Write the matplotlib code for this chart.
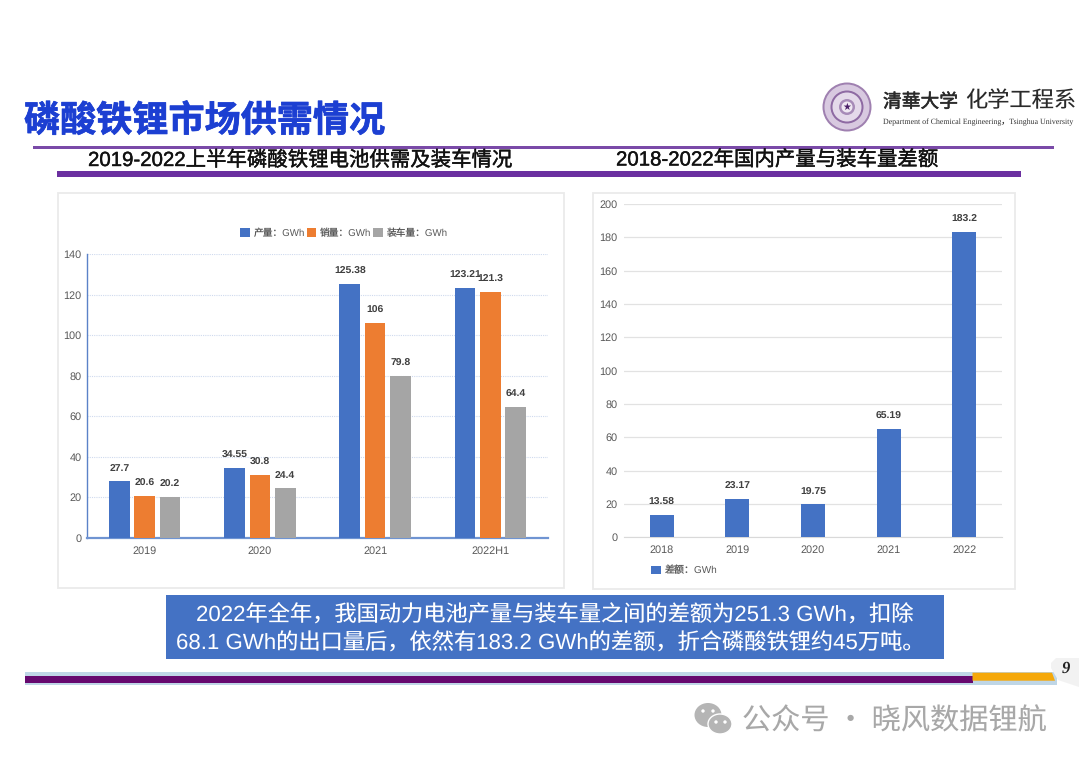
import matplotlib
matplotlib.use("Agg")
import matplotlib.pyplot as plt
import matplotlib.patheffects as pe
from matplotlib.patches import Rectangle, Circle, Ellipse, Polygon

FONT = ['Liberation Sans', 'Noto Sans CJK SC', 'DejaVu Sans']
CJK = ['Noto Sans CJK SC', 'Liberation Sans', 'DejaVu Sans']
plt.rcParams['font.family'] = FONT
plt.rcParams['text.hinting'] = 'no_hinting'

# data
years_left = ['2019', '2020', '2021', '2022H1']
production = [27.7, 34.55, 125.38, 123.21]
sales = [20.6, 30.8, 106, 121.3]
installed = [20.2, 24.4, 79.8, 64.4]
production_labels = ['27.7', '34.55', '125.38', '123.21']
sales_labels = ['20.6', '30.8', '106', '121.3']
installed_labels = ['20.2', '24.4', '79.8', '64.4']
left_ticks = [0, 20, 40, 60, 80, 100, 120, 140]

years_right = ['2018', '2019', '2020', '2021', '2022']
gap = [13.58, 23.17, 19.75, 65.19, 183.2]
gap_labels = ['13.58', '23.17', '19.75', '65.19', '183.2']
right_ticks = [0, 20, 40, 60, 80, 100, 120, 140, 160, 180, 200]

W, H = 1080, 763
BLUE, ORANGE, GREY = '#4472C4', '#ED7D31', '#A5A5A5'
TXT = '#595959'

fig = plt.figure(figsize=(W / 100, H / 100), dpi=100, facecolor='white')


def axes_px(x0, y0, x1, y1, **kw):
    return fig.add_axes([x0 / W, 1 - y1 / H, (x1 - x0) / W, (y1 - y0) / H], **kw)


def heavy(t, w=0.5):
    t.set_path_effects([pe.withStroke(linewidth=w, foreground=t.get_color())])
    return t


bg = axes_px(0, 0, W, H, zorder=0)
bg.set_xlim(0, W)
bg.set_ylim(H, 0)
bg.axis('off')


def rect(x0, y0, x1, y1, fc, ec='none', lw=0, z=1):
    bg.add_patch(Rectangle((x0, y0), x1 - x0, y1 - y0, fc=fc, ec=ec, lw=lw, zorder=z))


# header
heavy(bg.text(24, 121, '磷酸铁锂市场供需情况', color='#1C3FD2', fontsize=26, fontweight='bold',
              family=CJK, va='center', ha='left'), 0.5)
rect(33, 146, 1054, 148.5, '#7A4AA8')
rect(57, 171, 1021, 176.5, '#6B30A0')
heavy(bg.text(88, 166, '2019-2022上半年磷酸铁锂电池供需及装车情况', color='#111111', fontsize=14.7,
              va='baseline', ha='left'), 0.3)
heavy(bg.text(616, 165.5, '2018-2022年国内产量与装车量差额', color='#111111', fontsize=14.7,
              va='baseline', ha='left'), 0.3)

# logo
cx, cy = 847, 107
for r, fc in [(24.5, '#9F80B0'), (22.5, '#D8C9E0'), (16.5, '#8E6AA3'), (14.5, '#E4D9EA'), (8, '#A78BB8'), (5.5, '#EFE8F2')]:
    bg.add_patch(Circle((cx, cy), r, fc=fc, ec='none', zorder=2))
bg.text(cx, cy + 0.5, '★', color='#4A1F68', fontsize=7, ha='center', va='center',
        family=['DejaVu Sans'], zorder=3)
heavy(bg.text(883, 102, '清華大学', color='#2A2A2A', fontsize=13.5, family=CJK,
              va='center', ha='left'), 0.4)
bg.text(965, 101, '化学工程系', color='#2A2A2A', fontsize=16, family=CJK, va='center', ha='left')
bg.text(883, 122.5, 'Department of Chemical Engineering，Tsinghua University', color='#333333',
        fontsize=5.7, family=['Liberation Serif', 'Noto Sans CJK SC'], va='center', ha='left')

# panels
rect(57.5, 192.5, 564, 588, 'white', ec='#EAEAEA', lw=1.3)
rect(592.5, 192.5, 1015, 589, 'white', ec='#EAEAEA', lw=1.3)

# left chart
ax = axes_px(87, 254, 548, 537.5, zorder=2)
ax.patch.set_alpha(0)
ax.set_xlim(-0.5, 3.5)
ax.set_ylim(0, 140)
series = [(production, production_labels, BLUE, -0.22, '产量：GWh'),
          (sales, sales_labels, ORANGE, 0.0, '销量：GWh'),
          (installed, installed_labels, GREY, 0.22, '装车量：GWh')]
for vals, labs, col, off, name in series:
    xs = [i + off for i in range(len(vals))]
    ax.bar(xs, vals, width=0.18, color=col, zorder=3, label=name)
    for x, v, s in zip(xs, vals, labs):
        ax.annotate(s, (x, v), xytext=(0, 9), textcoords='offset points', ha='center', va='center',
                    fontsize=7.5, color='#404040', fontweight='bold', zorder=5, annotation_clip=False)
ax.set_xticks(range(4), years_left)
ax.set_yticks(left_ticks)
ax.grid(axis='y', color='#CFDAEE', lw=0.8, ls=(0, (1, 1)), zorder=1)
for s in ('top', 'right'):
    ax.spines[s].set_visible(False)
ax.spines['left'].set_color('#5B82C8')
ax.spines['left'].set_linewidth(1.0)
ax.spines['bottom'].set_color('#6F94D2')
ax.spines['bottom'].set_linewidth(1.6)
ax.tick_params(length=0, labelsize=7.8, labelcolor=TXT)
ax.tick_params(axis='x', pad=6)
ax.tick_params(axis='y', pad=4)
ax.legend(loc='center', bbox_to_anchor=(344 / W, 1 - 233 / H), bbox_transform=fig.transFigure, ncol=3,
          frameon=False, fontsize=7, labelcolor=TXT, handlelength=0.95, handleheight=0.95,
          handletextpad=0.4, columnspacing=0.2, borderpad=0)

# right chart
ax2 = axes_px(624, 204, 1002, 537.3, zorder=2)
ax2.patch.set_alpha(0)
ax2.set_xlim(-0.5, 4.5)
ax2.set_ylim(0, 200)
ax2.bar(range(5), gap, width=0.32, color=BLUE, zorder=3, label='差额：GWh')
for i, (v, s) in enumerate(zip(gap, gap_labels)):
    ax2.annotate(s, (i, v), xytext=(0, 9), textcoords='offset points', ha='center', va='center',
                 fontsize=7.5, color='#404040', fontweight='bold', zorder=5, annotation_clip=False)
ax2.set_xticks(range(5), years_right)
ax2.set_yticks(right_ticks)
ax2.grid(axis='y', color='#E2E2E2', lw=0.9, zorder=1)
for s in ('top', 'right', 'left'):
    ax2.spines[s].set_visible(False)
ax2.spines['bottom'].set_color('#D9D9D9')
ax2.tick_params(length=0, labelsize=7.8, labelcolor=TXT)
ax2.tick_params(axis='x', pad=5.5)
ax2.tick_params(axis='y', pad=4.5)
ax2.legend(loc='center left', bbox_to_anchor=(646 / W, 1 - 570.5 / H), bbox_transform=fig.transFigure,
           frameon=False, fontsize=7.2, labelcolor=TXT, handlelength=0.95, handleheight=0.95,
           handletextpad=0.4, borderpad=0)

# callout
rect(166, 595, 944, 659, '#4472C4')
bg.text(554.5, 615, '2022年全年，我国动力电池产量与装车量之间的差额为251.3 GWh，扣除', color='white',
        fontsize=16, ha='center', va='center')
bg.text(550, 644, '68.1 GWh的出口量后，依然有183.2 GWh的差额，折合磷酸铁锂约45万吨。', color='white',
        fontsize=16, ha='center', va='center')

# footer
rect(25, 672, 1057, 684.5, '#BFD6E6')
rect(25, 676, 972.5, 683, '#66086E')
bg.add_patch(Polygon([(972.5, 672.7), (1052, 672.7), (1055, 680.7), (972.5, 680.7)], fc='#F5A80A', ec='none', zorder=2))
bg.add_patch(Polygon([(1056, 658), (1079, 658), (1079, 687), (1058, 680), (1051, 668), (1051, 663)],
                     fc='#F2F2F2', ec='none', zorder=2))
bg.text(1066, 669, '9', family=['Liberation Serif'], fontsize=12, fontweight='bold', fontstyle='italic',
        color='#222222', ha='center', va='center', zorder=3)

# watermark
bg.add_patch(Ellipse((708, 715), 27, 24, fc='#B5B5B5', ec='none', zorder=2))
bg.add_patch(Ellipse((720, 724), 24, 20, fc='#B5B5B5', ec='white', lw=1, zorder=3))
for x, y, z in [(703, 711, 4), (713, 711, 4), (716, 722, 4), (725, 722, 4)]:
    bg.add_patch(Circle((x, y), 1.7, fc='white', ec='none', zorder=z))
bg.text(742, 721.5, '公众号 · 晓风数据锂航', color='#A8A8A8', fontsize=21, family=CJK, ha='left', va='center')

fig.savefig('out.png', dpi=100, facecolor='white')
